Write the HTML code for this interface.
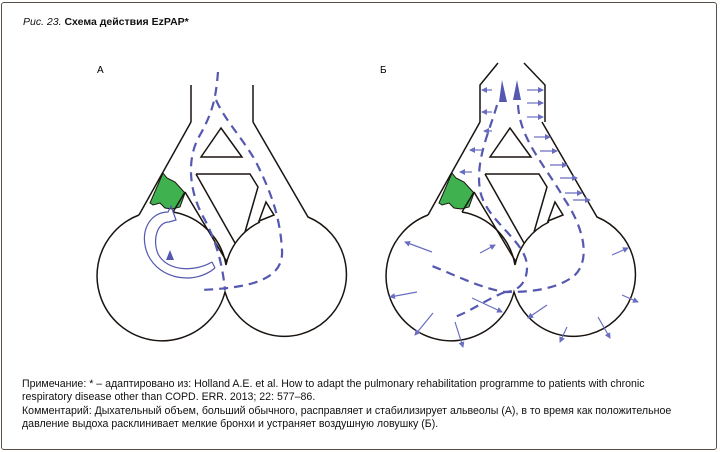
<!DOCTYPE html>
<html><head><meta charset="utf-8"><style>
html,body{margin:0;padding:0;background:#fff}
body{width:720px;height:452px;position:relative;overflow:hidden;font-family:"Liberation Sans",sans-serif}
.frame{position:absolute;left:1px;top:2px;width:714px;height:446px;border:1.5px solid #5a5048;border-radius:3px}
.title{position:absolute;left:23px;top:16px;font-size:10.5px;color:#111}
.note{position:absolute;left:22px;top:378px;font-size:10.6px;line-height:13.3px;color:#111;width:690px}
svg{position:absolute;left:0;top:0}
</style></head><body>
<div class="frame"></div>
<div class="title"><i>Рис. 23.</i> <b>Схема действия EzPAP*</b></div>
<svg width="720" height="452" viewBox="0 0 720 452">
<defs>
<marker id="ah" markerWidth="6" markerHeight="6" refX="5" refY="3" orient="auto" markerUnits="userSpaceOnUse"><path d="M0,0 L6,3 L0,6 z" fill="#6a6ec0"/></marker>
<g id="lung" fill="none" stroke="#1a1410" stroke-width="1.5">
  <path d="M139,215 L191,122"/>
  <path d="M139,215 A65,65 0 1 0 225,292 A62,62 0 1 0 308,217 L253,122"/>
  <path d="M173,212 A65,65 0 0 1 226,265 A62,62 0 0 1 260,222"/>
  <path d="M173,212 L185,192"/>
  <path d="M185,192 L227,262"/>
  <path d="M196,174 L250,174 L258,187 L245,232"/>
  <path d="M196,174 L235,243"/>
  <path d="M201,157 L221,128 L242,157 Z"/>
  <path d="M266,202 L274,215 L259,221 Z"/>
</g>
</defs>
<text x="97" y="73" font-size="10" font-family="Liberation Sans">А</text>
<text x="380" y="73" font-size="10" font-family="Liberation Sans">Б</text>
<!-- A -->
<path d="M163,173 L167,178 L175,182 L185,193 L180,207 L172,209 L165,208 L160,203 L153,205 L150,203 Z" fill="#3fb24f" stroke="#1a1410" stroke-width="1"/>
<use href="#lung"/>
<path d="M191,85 L191,122 M253,85 L253,122" stroke="#1a1410" stroke-width="1.5" fill="none"/>
<g fill="none" stroke="#5558b0" stroke-width="2.2" stroke-dasharray="9,6">
<path d="M218,72 C216,95 214,110 200,135 C185,160 190,195 205,220 C215,240 222,260 225,290"/>
<path d="M216,100 C225,120 240,135 255,160 C270,190 280,215 282,250 C284,280 250,288 200,290"/>
</g>
<path d="M215,268 C195,285 160,280 148,255 C138,232 150,212 168,212 L171,206 L176,220 L169,222 C158,222 152,238 158,254 C168,272 195,272 212,262" fill="none" stroke="#5558b0" stroke-width="1.2"/>
<path d="M212,262 L215,268" stroke="#5558b0" stroke-width="1.2"/>
<path d="M170,250 L174,260 L166,260 Z" fill="#5558b0"/>
<!-- B -->
<path d="M452,173 L456,178 L464,182 L474,193 L469,207 L461,209 L454,208 L449,203 L442,205 L439,203 Z" fill="#3fb24f" stroke="#1a1410" stroke-width="1"/>
<use href="#lung" transform="translate(289,0)"/>
<path d="M498,63 L480,85 L480,122 M524,63 L545,85 L545,122" stroke="#1a1410" stroke-width="1.5" fill="none"/>
<g fill="none" stroke="#5558b0" stroke-width="2.2" stroke-dasharray="9,6">
<path d="M497,105 C490,130 475,160 480,190 C485,220 525,240 527,265 C528,285 515,292 505,292"/>
<path d="M518,105 C520,140 545,165 565,200 C585,230 590,260 575,275 C555,292 520,292 505,292 C480,288 455,275 432,266"/>
<path d="M505,292 C485,300 470,312 452,318"/>
</g>
<path d="M499,102 L502,80 L507,102 Z" fill="#5558b0"/>
<path d="M513,100 L517,80 L521,100 Z" fill="#5558b0"/>
<g stroke="#6a6ec0" stroke-width="1.2" marker-end="url(#ah)">
<line x1="492" y1="90" x2="482" y2="90"/>
<line x1="492" y1="112" x2="482" y2="112"/>
<line x1="492" y1="131" x2="484" y2="131"/>
<line x1="482" y1="150" x2="470" y2="150"/>
<line x1="472" y1="172" x2="460" y2="172"/>
<line x1="527" y1="90" x2="543" y2="90"/>
<line x1="527" y1="103" x2="543" y2="103"/>
<line x1="527" y1="117" x2="543" y2="117"/>
<line x1="534" y1="137" x2="550" y2="137"/>
<line x1="540" y1="151" x2="557" y2="151"/>
<line x1="550" y1="165" x2="567" y2="165"/>
<line x1="560" y1="178" x2="577" y2="178"/>
<line x1="565" y1="193" x2="582" y2="193"/>
<line x1="573" y1="200" x2="590" y2="200"/>
<line x1="432" y1="252" x2="405" y2="242"/>
<line x1="480" y1="253" x2="495" y2="245"/>
<line x1="417" y1="292" x2="390" y2="297"/>
<line x1="433" y1="313" x2="415" y2="335"/>
<line x1="455" y1="322" x2="463" y2="347"/>
<line x1="472" y1="298" x2="502" y2="312"/>
<line x1="547" y1="305" x2="528" y2="318"/>
<line x1="567" y1="327" x2="560" y2="342"/>
<line x1="598" y1="317" x2="610" y2="338"/>
<line x1="622" y1="295" x2="638" y2="302"/>
<line x1="612" y1="255" x2="628" y2="248"/>
</g>
</svg>
<div class="note">Примечание: * – адаптировано из: Holland A.E. et al. How to adapt the pulmonary rehabilitation programme to patients with chronic<br>respiratory disease other than COPD. ERR. 2013; 22: 577–86.<br>Комментарий: Дыхательный объем, больший обычного, расправляет и стабилизирует альвеолы (А), в то время как положительное<br>давление выдоха расклинивает мелкие бронхи и устраняет воздушную ловушку (Б).</div>
</body></html>
